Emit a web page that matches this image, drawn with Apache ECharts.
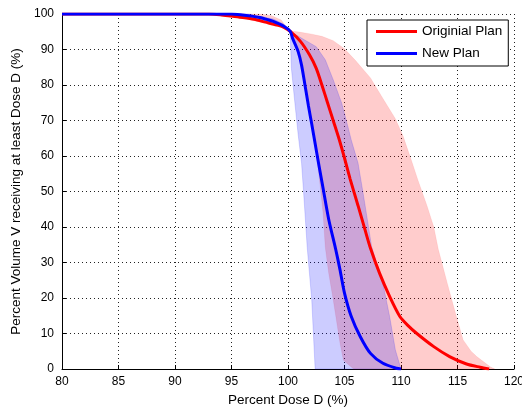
<!DOCTYPE html>
<html style="height: 100%">
<head>
  <meta charset="UTF-8">
  <title>DVH</title>
  <script src="https://cdn.jsdelivr.net/npm/echarts@6/dist/echarts.min.js"></script>
</head>
<body style="height: 100%; margin: 0; background: #fff">
<div id="main" style="width: 522px; height: 409px"></div>

<script>
  // mean DVH curves, [dose %, volume %]
  const origLine = [
    [80, 100], [93, 100], [94, 99.8], [95, 99.4], [96, 99.0], [97, 98.5], [98, 97.7], [99, 96.9],
    [99.6, 96.3], [100.2, 95.1], [101.1, 92.3], [101.9, 88.5], [102.5, 84.7], [103.0, 80],
    [103.5, 75], [104.0, 70], [104.5, 65], [104.95, 60], [105.5, 53.5], [106.2, 46],
    [106.8, 39.4], [107.3, 34], [108.1, 27], [109.0, 20.4], [109.9, 14.8], [110.6, 12.3],
    [111.4, 10], [112.9, 6.3], [114.3, 3.5], [115.8, 1.4], [117, 0.5], [117.8, 0]
  ];
  const newLine = [
    [80, 100], [95, 100], [95.8, 99.8], [96.8, 99.4], [97.5, 99.0], [98.2, 98.4], [98.7, 97.9],
    [99.6, 96.6], [100.2, 95.1], [100.4, 93.2], [100.9, 89.4], [101.2, 85.6], [101.5, 80],
    [101.8, 74.3], [102.1, 69], [102.4, 63.5], [102.7, 58], [103.1, 51], [103.6, 42.2],
    [104.2, 34], [104.6, 28], [105.0, 21.4], [105.6, 14.8], [106.4, 9.1], [107.3, 4.4],
    [108.4, 1.6], [109.6, 0.2], [110, 0]
  ];

  // spread bands: upper (right) edge and lower (left) edge
  const origBandHi = [
    [80, 100], [97.5, 100], [98.5, 99.6], [99.4, 98.3], [100.1, 95.3], [101, 94.9], [102, 94.4],
    [103, 93.7], [104, 92.5], [105, 90.2], [106, 86.8], [107.3, 82], [108.4, 76.2], [109.5, 70.5],
    [110.2, 65.5], [111, 58], [111.5, 53.2], [112.3, 46], [112.9, 40], [113.3, 33.7], [114.1, 24.1],
    [114.9, 14.8], [115.5, 8.2], [116.2, 5], [116.7, 3.5], [117.9, 0.6], [118.3, 0]
  ];
  const origBandLo = [
    [80, 100], [92, 100], [94, 99.6], [96, 98.8], [97.5, 97.8], [98.8, 96.8], [99.6, 96],
    [100.1, 95.3], [100.5, 92.5], [101, 87], [101.5, 80], [102, 71], [102.4, 64], [102.6, 58.3],
    [102.9, 50], [103.1, 44], [103.3, 34.2], [103.6, 27], [104, 19.5], [104.6, 7.3], [104.9, 2.5],
    [105.8, 0]
  ];
  const newBandHi = [
    [80, 100], [96.5, 100], [98.7, 98.6], [99.6, 97.2], [100.1, 95.3], [101.3, 93], [102.5, 90.8],
    [103.3, 87.1], [104, 81.5], [104.75, 74.9], [105.3, 68.3], [105.6, 64.5], [106.2, 58],
    [106.7, 48.5], [107.4, 34.5], [108.4, 24.1], [109, 14.7], [109.5, 5.4], [110, 0]
  ];
  const newBandLo = [
    [80, 100], [95, 99.8], [97.5, 98.6], [98.7, 97.3], [99.6, 96.1], [100.1, 95.3], [100.2, 94.2],
    [100.3, 84.7], [100.6, 75.2], [100.9, 66], [101.2, 58], [101.4, 48.8], [101.7, 34.2],
    [102.1, 19.5], [102.4, 0]
  ];

  const font = 'Liberation Sans, Arial, sans-serif';

  function band(name, hi, lo, fill, edge) {
    const pts = hi.concat(lo.slice().reverse());
    return {
      name: name,
      type: 'custom',
      silent: true,
      data: pts,
      encode: { x: 0, y: 1 },
      renderItem: function (params, api) {
        if (params.dataIndex !== 0) return null;
        return {
          type: 'polygon',
          shape: { points: pts.map(p => api.coord(p)) },
          style: { fill: fill, stroke: edge, lineWidth: 1 }
        };
      },
      z: 1
    };
  }

  const gridLine = { show: true, lineStyle: { color: '#222', type: [1, 3], width: 1 } };

  let option = {
    animation: false,
    grid: { left: 62, right: 8, top: 14, bottom: 40, outerBoundsMode: 'none', containLabel: false },
    legend: {
      data: ['Originial Plan', 'New Plan'],
      orient: 'vertical',
      left: 367,
      top: 20,
      icon: 'rect',
      itemWidth: 41,
      itemHeight: 3,
      itemGap: 7,
      padding: [4, 6, 5, 9],
      borderColor: '#000',
      borderWidth: 1,
      backgroundColor: '#fff',
      textStyle: { fontFamily: font, fontSize: 13.5, color: '#000', lineHeight: 15 }
    },
    xAxis: {
      type: 'value',
      min: 80,
      max: 120,
      interval: 5,
      name: 'Percent Dose D (%)',
      nameLocation: 'middle',
      nameGap: 23,
      nameTextStyle: { fontFamily: font, fontSize: 13.5, color: '#000' },
      axisLine: { lineStyle: { color: '#000', width: 1 } },
      axisTick: { inside: true, length: 4, lineStyle: { color: '#000' } },
      axisLabel: { fontFamily: font, fontSize: 12, color: '#000', margin: 7 },
      splitLine: gridLine
    },
    yAxis: {
      type: 'value',
      min: 0,
      max: 100,
      interval: 10,
      name: 'Percent Volume V receiving at least Dose D (%)',
      nameLocation: 'middle',
      nameGap: 35,
      nameTextStyle: { fontFamily: font, fontSize: 13.5, color: '#000' },
      axisLine: { show: true, lineStyle: { color: '#000', width: 1 } },
      axisTick: { show: true, inside: true, length: 4, lineStyle: { color: '#000' } },
      axisLabel: { fontFamily: font, fontSize: 12, color: '#000', margin: 8 },
      splitLine: gridLine
    },
    series: [
      band('origBand', origBandHi, origBandLo, 'rgba(255,0,0,0.2)', 'rgba(255,0,0,0.08)'),
      band('newBand', newBandHi, newBandLo, 'rgba(0,0,255,0.2)', 'rgba(0,0,255,0.15)'),
      {
        name: 'Originial Plan',
        type: 'line',
        data: origLine,
        showSymbol: false,
        smooth: 0.25,
        color: '#ff0000',
        lineStyle: { width: 3, color: '#ff0000' },
        z: 3
      },
      {
        name: 'New Plan',
        type: 'line',
        data: newLine,
        showSymbol: false,
        smooth: 0.25,
        color: '#0000ff',
        lineStyle: { width: 3, color: '#0000ff' },
        z: 4
      }
    ]
  };

  let chart = echarts.init(document.getElementById('main'));
  chart.setOption(option);
</script>
</body>
</html>
